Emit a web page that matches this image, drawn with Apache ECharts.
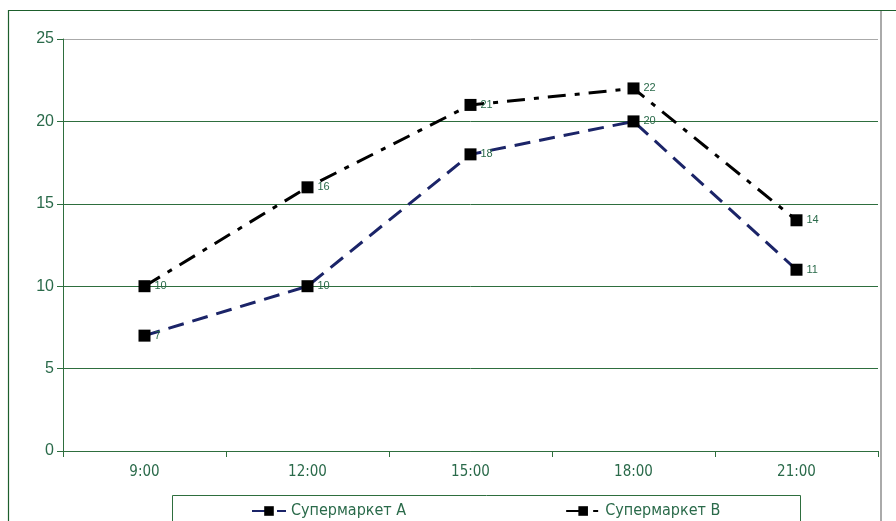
<!DOCTYPE html>
<html><head><meta charset="utf-8">
<script src="https://cdn.jsdelivr.net/npm/echarts@6/dist/echarts.min.js"></script>
<style>html,body{margin:0;padding:0;background:#fff}#c{width:896px;height:521px}</style>
</head><body><div id="c"></div>
<script>
const categories = ['9:00','12:00','15:00','18:00','21:00'];
const seriesA = [7, 10, 18, 20, 11];
const seriesB = [10, 16, 21, 22, 14];
const nameA = 'Супермаркет А';
const nameB = 'Супермаркет В';
const txt = '#2a6a4a';
const green = '#2e6e3e';
const narrow = '"DejaVu Sans Condensed", "Liberation Sans", sans-serif';
const chart = echarts.init(document.getElementById('c'));
const lbl = {show:true, position:'right', distance:4, color:txt, fontSize:11, fontFamily:'Liberation Sans'};
chart.setOption({
  animation:false,
  backgroundColor:'#fff',
  graphic:[
    {type:'rect', shape:{x:8.5,y:10.5,width:900,height:520}, style:{fill:'none', stroke:'#1d5e2c', lineWidth:1.2}, z:-1},
    {type:'line', shape:{x1:881,y1:11,x2:881,y2:521}, style:{stroke:'#aaaaaa', lineWidth:2}},
    {type:'rect', shape:{x:172.5,y:495.5,width:628,height:40}, style:{fill:'none', stroke:green, lineWidth:1}}
  ],
  grid:{left:63, right:18, top:39, bottom:70},
  legend:{
    data:[nameA, nameB], bottom:-3, left:246, itemGap:159,
    itemWidth:34, itemHeight:12,
    textStyle:{color:txt, fontSize:16, fontFamily:narrow}
  },
  xAxis:{
    type:'category', data:categories, boundaryGap:true,
    axisLine:{lineStyle:{color:green, width:1}},
    axisTick:{show:true, length:6, lineStyle:{color:green}},
    axisLabel:{color:txt, fontSize:15, fontFamily:narrow, margin:14}
  },
  yAxis:{
    type:'value', min:0, max:25, interval:5,
    axisLine:{show:true, lineStyle:{color:green}},
    axisTick:{show:true, length:6, lineStyle:{color:green}},
    axisLabel:{color:txt, fontSize:16, fontFamily:'Liberation Sans', margin:9},
    splitLine:{show:true, lineStyle:{color:[green,green,green,green,green,'#aaaaaa'], width:1}}
  },
  series:[
    {name:nameA, type:'line', data:seriesA, symbol:'rect', symbolSize:12,
     itemStyle:{color:'#000'}, lineStyle:{color:'#1b2468', width:3, type:[16,9]},
     label:lbl},
    {name:nameB, type:'line', data:seriesB, symbol:'rect', symbolSize:12,
     itemStyle:{color:'#000'}, lineStyle:{color:'#000', width:3, type:[18,9,5,9]},
     label:lbl}
  ]
});
</script></body></html>
